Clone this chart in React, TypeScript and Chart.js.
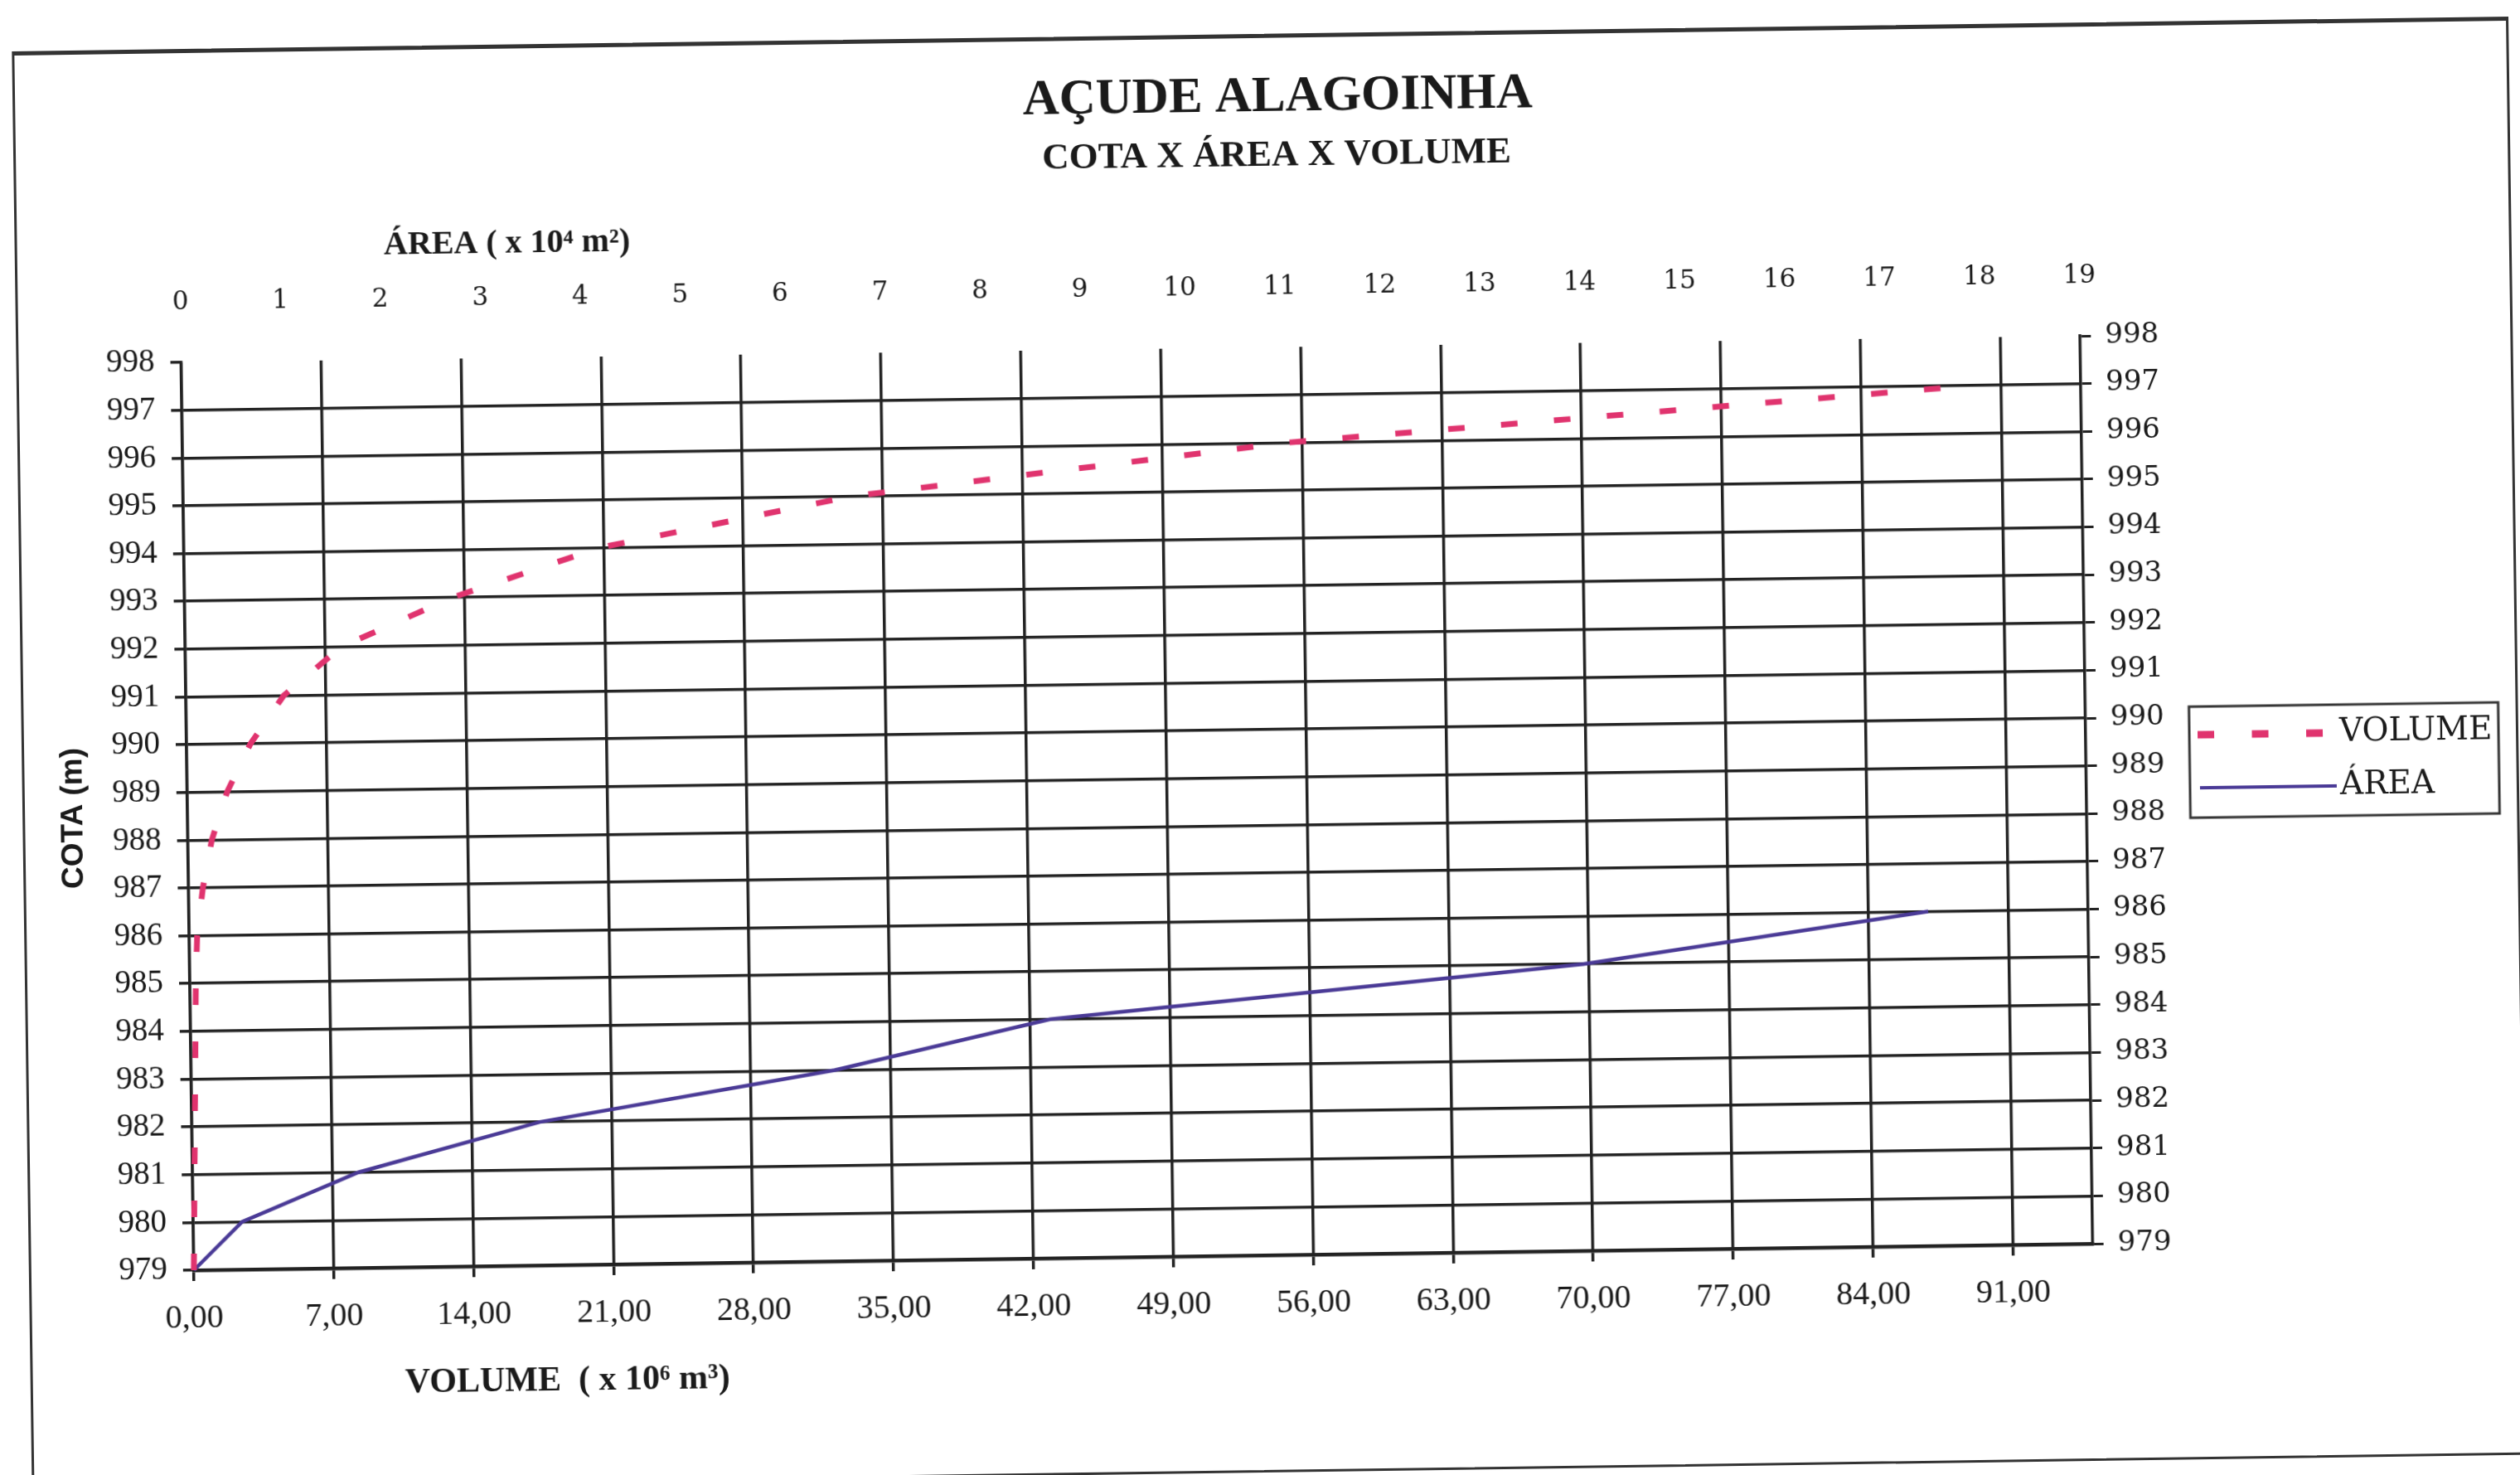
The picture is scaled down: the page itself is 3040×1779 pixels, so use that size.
import React, { useEffect, useRef } from 'react';
import { Chart, registerables } from 'chart.js';

Chart.register(...registerables);

// ---- data ----
const COTAS = [979, 980, 981, 982, 983, 984, 985, 986, 987, 988, 989, 990, 991, 992, 993, 994, 995, 996, 997];
const VOLUME = [0, 0.05, 0.1, 0.15, 0.2, 0.25, 0.3, 0.4, 0.72, 1.2, 2.0, 3.2, 4.9, 7.8, 13.4, 20.8, 33.4, 55.3, 89.8];
const AREA_COTAS = [979, 980, 981, 982, 983, 984, 985, 986];
const AREA = [0, 0.49, 1.66, 3.48, 6.44, 8.6, 13.94, 17.4];

const VOLUME_TICKS = [0, 7, 14, 21, 28, 35, 42, 49, 56, 63, 70, 77, 84, 91];
const AREA_TICKS = [0, 1, 2, 3, 4, 5, 6, 7, 8, 9, 10, 11, 12, 13, 14, 15, 16, 17, 18, 19];
const COTA_TICKS = [979, 980, 981, 982, 983, 984, 985, 986, 987, 988, 989, 990, 991, 992, 993, 994, 995, 996, 997, 998];

const TITLE = 'AÇUDE ALAGOINHA';
const SUBTITLE = 'COTA X ÁREA X VOLUME';
const X_TITLE = 'VOLUME  ( x 10⁶ m³)';
const X2_TITLE = 'ÁREA ( x 10⁴ m²)';
const Y_TITLE = 'COTA (m)';
const SERIES_LABELS = ['VOLUME', 'ÁREA'];

// ---- layout ----
const W = 3040;
const H = 1779;
const AREA_L = 225;
const AREA_R = 2516;
const AREA_T = 419;
const AREA_B = 1514;

const INK = '#1a1a1a';
const GRID = '#222222';
const PINK = '#e0336e';
const PURPLE = '#4a3a96';
const SERIF = '"Liberation Serif", "Times New Roman", serif';
const WIDE = '"DejaVu Serif", serif';
const SANS = '"Liberation Sans", Arial, sans-serif';

const fmtVol = (v: number) => v.toFixed(2).replace('.', ',');

export default function App() {
  const ref = useRef<HTMLCanvasElement>(null);

  useEffect(() => {
    const canvas = ref.current;
    if (!canvas) return;

    const decor = {
      id: 'decor',
      afterDraw(chart: any) {
        const ctx = chart.ctx as CanvasRenderingContext2D;
        ctx.save();
        ctx.fillStyle = INK;
        ctx.textAlign = 'center';
        ctx.textBaseline = 'middle';

        ctx.font = `bold 61px ${SERIF}`;
        ctx.fillText(TITLE, 1552, 118);
        ctx.font = `bold 45px ${SERIF}`;
        ctx.fillText(SUBTITLE, 1550, 188);

        ctx.font = `bold 40px ${SERIF}`;
        ctx.fillText(X2_TITLE, 620, 282);
        ctx.font = `bold 42px ${SERIF}`;
        ctx.fillText(X_TITLE, 674, 1654);

        ctx.save();
        ctx.translate(88, 967);
        ctx.rotate(-Math.PI / 2);
        ctx.font = `bold 37px ${SANS}`;
        ctx.fillText(Y_TITLE, 0, 0);
        ctx.restore();

        // legend
        const lx = 2641, ly = 868, lw = 373, lh = 134;
        ctx.strokeStyle = '#333';
        ctx.lineWidth = 3;
        ctx.strokeRect(lx, ly, lw, lh);

        const ds = chart.data.datasets;
        ctx.save();
        ctx.strokeStyle = ds[0].borderColor;
        ctx.lineWidth = 9;
        ctx.setLineDash([20, 45.5]);
        ctx.beginPath();
        ctx.moveTo(2651, 902);
        ctx.lineTo(2802, 902);
        ctx.stroke();
        ctx.restore();

        ctx.strokeStyle = ds[1].borderColor;
        ctx.lineWidth = 4;
        ctx.beginPath();
        ctx.moveTo(2653, 966);
        ctx.lineTo(2818, 966);
        ctx.stroke();

        ctx.textAlign = 'left';
        ctx.font = `39px ${WIDE}`;
        ctx.fillText(ds[0].label, 2822, 902);
        ctx.fillText(ds[1].label, 2822, 966);
        ctx.restore();
      },
    };

    const chart = new Chart(canvas, {
      type: 'scatter',
      data: {
        datasets: [
          {
            label: SERIES_LABELS[0],
            data: COTAS.map((c, i) => ({ x: VOLUME[i], y: c })),
            xAxisID: 'x',
            yAxisID: 'y',
            showLine: true,
            borderColor: PINK,
            backgroundColor: PINK,
            borderWidth: 7,
            borderDash: [20, 44],
            borderCapStyle: 'butt',
            pointRadius: 0,
            tension: 0,
            clip: 10,
          },
          {
            label: SERIES_LABELS[1],
            data: AREA_COTAS.map((c, i) => ({ x: AREA[i], y: c })),
            xAxisID: 'x2',
            yAxisID: 'y',
            showLine: true,
            borderColor: PURPLE,
            backgroundColor: PURPLE,
            borderWidth: 4.5,
            pointRadius: 0,
            tension: 0,
            clip: 10,
          },
        ],
      },
      options: {
        responsive: false,
        maintainAspectRatio: false,
        devicePixelRatio: 1,
        animation: false,
        layout: { padding: 0 },
        plugins: {
          legend: { display: false },
          title: { display: false },
          tooltip: { enabled: false },
        },
        scales: {
          x: {
            type: 'linear',
            position: 'bottom',
            min: 0,
            max: 95,
            afterBuildTicks: (s: any) => {
              s.ticks = VOLUME_TICKS.map((v) => ({ value: v }));
            },
            afterFit: (s: any) => {
              s.height = H - AREA_B;
            },
            grid: { color: GRID, lineWidth: 3.5, tickLength: 13, tickColor: GRID, drawTicks: true },
            border: { display: true, color: GRID, width: 4.5 },
            ticks: {
              autoSkip: false,
              maxRotation: 0,
              padding: 21,
              color: INK,
              font: { family: SERIF, size: 40 },
              callback: (v: any) => fmtVol(Number(v)),
            },
          },
          x2: {
            type: 'linear',
            position: 'top',
            min: 0,
            max: 19,
            afterBuildTicks: (s: any) => {
              s.ticks = AREA_TICKS.map((v) => ({ value: v }));
            },
            afterFit: (s: any) => {
              s.height = AREA_T;
            },
            grid: { display: false },
            border: { display: false },
            ticks: {
              autoSkip: false,
              maxRotation: 0,
              padding: 45,
              color: INK,
              font: { family: WIDE, size: 31 },
              callback: (v: any) => String(v),
            },
          },
          y: {
            type: 'linear',
            position: 'left',
            min: 979,
            max: 998,
            afterBuildTicks: (s: any) => {
              s.ticks = COTA_TICKS.map((v) => ({ value: v }));
            },
            afterFit: (s: any) => {
              s.width = AREA_L;
            },
            grid: {
              color: (c: any) => (c.tick && c.tick.value === 998 ? 'rgba(0,0,0,0)' : GRID),
              tickColor: GRID,
              lineWidth: 3.5,
              tickLength: 13,
              drawTicks: true,
            },
            border: { display: true, color: GRID, width: 3.5 },
            ticks: {
              autoSkip: false,
              padding: 19,
              color: INK,
              font: { family: SERIF, size: 39 },
              callback: (v: any) => String(v),
            },
          },
          y2: {
            type: 'linear',
            position: 'right',
            min: 979,
            max: 998,
            afterBuildTicks: (s: any) => {
              s.ticks = COTA_TICKS.map((v) => ({ value: v }));
            },
            afterFit: (s: any) => {
              s.width = W - AREA_R;
            },
            grid: {
              drawOnChartArea: false,
              drawTicks: true,
              color: GRID,
              tickColor: GRID,
              lineWidth: 3,
              tickLength: 13,
            },
            border: { display: true, color: GRID, width: 3.5 },
            ticks: {
              autoSkip: false,
              padding: 17,
              color: INK,
              font: { family: WIDE, size: 34 },
              callback: (v: any) => String(v),
            },
          },
        },
      } as any,
      plugins: [decor],
    });

    return () => {
      chart.destroy();
    };
  }, []);

  return (
    <div
      style={{
        position: 'fixed',
        left: 0,
        top: 0,
        width: W,
        height: H,
        overflow: 'hidden',
        background: '#fff',
      }}
    >
      <div
        style={{
          position: 'absolute',
          left: 0,
          top: 0,
          width: W,
          height: H,
          transform: 'rotate(-0.8deg)',
          transformOrigin: '50% 50%',
        }}
      >
        <div
          style={{
            position: 'absolute',
            left: 26,
            top: 41,
            width: 3038 - 26,
            height: 1776 - 41,
            boxSizing: 'border-box',
            borderStyle: 'solid',
            borderColor: '#333',
            borderWidth: '5px 3px 3px 3px',
          }}
        />
        <canvas
          ref={ref}
          width={W}
          height={H}
          style={{ position: 'absolute', left: 0, top: 0, width: W, height: H, display: 'block' }}
        />
      </div>
    </div>
  );
}
